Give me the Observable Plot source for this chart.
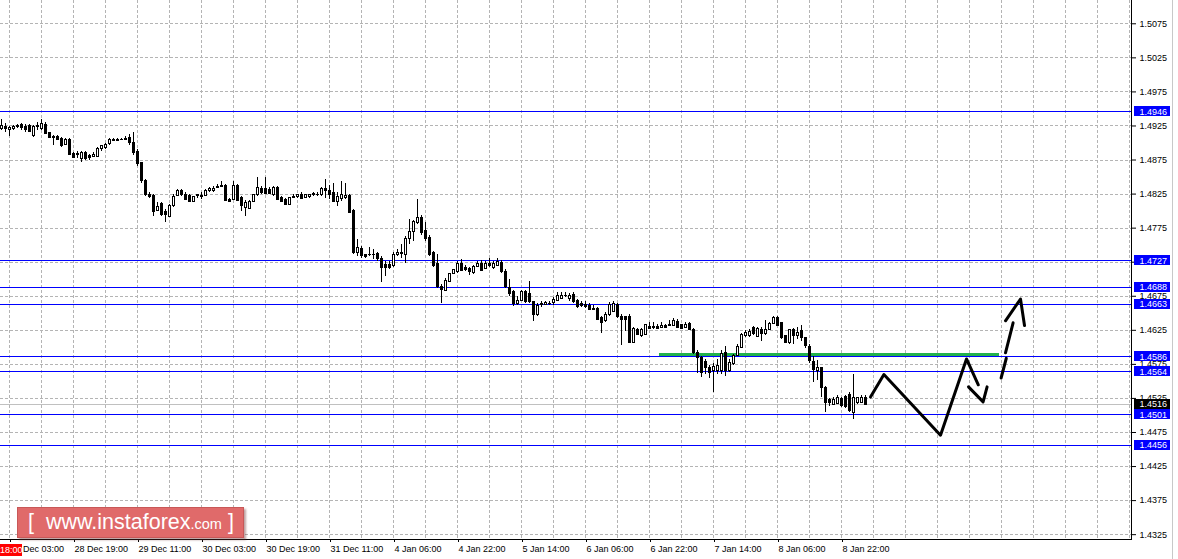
<!DOCTYPE html>
<html><head><meta charset="utf-8">
<script src="https://cdn.jsdelivr.net/npm/d3@7"></script>
<script src="https://cdn.jsdelivr.net/npm/@observablehq/plot@0.6"></script>
<style>
html,body{margin:0;padding:0;background:#fff;}
#wrap{position:relative;width:1178px;height:559px;overflow:hidden;font-family:"Liberation Sans",Arial,sans-serif;}
#wrap svg{position:absolute;left:0;top:0;}
.wm{position:absolute;left:17px;top:507px;width:225px;height:29px;background:#e06a6a;border:1px solid #c85858;box-shadow:2px 2px 2px rgba(110,50,50,0.45);color:#fff;}
.wm .t{position:absolute;left:10px;top:1px;font-size:21.5px;line-height:26px;white-space:nowrap;}
.wm .s{font-size:14.5px;}
.redlab{position:absolute;left:0;top:544px;width:22px;height:12px;background:#ff0000;color:#fff;font-size:9px;line-height:12px;text-align:center;}
.sidebar{position:absolute;left:1172px;top:0;width:1px;height:559px;background:#c8c8c8;}
</style></head><body><div id="wrap"></div>
<script>
// H1 candles, first bar index (0 = 28 Dec 03:00)
const firstBar = -2;
const open = [
1.4921,1.4924,1.4919,1.4921,1.4925,1.4927,1.4924,1.4925,1.4911,1.4923,
1.4921,1.4927,1.4915,1.4909,1.4909,1.4906,1.4897,1.4905,1.4884,1.4883,
1.4877,1.4886,1.4881,1.4880,1.4880,1.4891,1.4893,1.4899,1.4905,1.4905,
1.4904,1.4904,1.4907,1.4900,1.4887,1.4871,1.4844,1.4824,1.4822,1.4800,
1.4810,1.4799,1.4792,1.4807,1.4822,1.4830,1.4824,1.4822,1.4814,1.4822,
1.4822,1.4822,1.4829,1.4829,1.4836,1.4835,1.4837,1.4817,1.4817,1.4837,
1.4819,1.4805,1.4803,1.4813,1.4824,1.4833,1.4833,1.4831,1.4823,1.4834,
1.4819,1.4817,1.4809,1.4819,1.4820,1.4824,1.4819,1.4820,1.4824,1.4823,
1.4824,1.4833,1.4830,1.4826,1.4814,1.4818,1.4819,1.4822,1.4800,1.4739,
1.4745,1.4736,1.4735,1.4736,1.4737,1.4730,1.4721,1.4721,1.4720,1.4736,
1.4737,1.4736,1.4759,1.4770,1.4783,1.4790,1.4771,1.4761,1.4738,1.4722,
1.4689,1.4683,1.4696,1.4708,1.4710,1.4723,1.4717,1.4715,1.4709,1.4718,
1.4723,1.4715,1.4722,1.4717,1.4720,1.4724,1.4711,1.4687,1.4681,1.4664,
1.4668,1.4681,1.4679,1.4666,1.4647,1.4662,1.4662,1.4664,1.4665,1.4668,
1.4671,1.4676,1.4671,1.4677,1.4668,1.4663,1.4662,1.4660,1.4657,1.4656,
1.4643,1.4638,1.4648,1.4652,1.4662,1.4645,1.4645,1.4645,1.4607,1.4626,
1.4617,1.4618,1.4630,1.4629,1.4630,1.4629,1.4632,1.4631,1.4632,1.4637,
1.4633,1.4628,1.4634,1.4626,1.4592,1.4584,1.4579,1.4570,1.4566,1.4565,
1.4566,1.4591,1.4565,1.4576,1.4588,1.4599,1.4617,1.4616,1.4628,1.4615,
1.4625,1.4620,1.4625,1.4635,1.4643,1.4636,1.4616,1.4607,1.4625,1.4616,
1.4624,1.4613,1.4601,1.4579,1.4566,1.4569,1.4540,1.4523,1.4516,1.4517,
1.4524,1.4527,1.4530,1.4504,1.4518,1.4518,1.4526];
const high = [
1.4935,1.4928,1.4924,1.4925,1.4927,1.4928,1.4927,1.4927,1.4925,1.4930,
1.4934,1.4930,1.4916,1.4911,1.4911,1.4908,1.4906,1.4906,1.4886,1.4888,
1.4887,1.4887,1.4883,1.4886,1.4893,1.4897,1.4899,1.4906,1.4906,1.4906,
1.4906,1.4909,1.4912,1.4915,1.4890,1.4872,1.4846,1.4827,1.4824,1.4812,
1.4812,1.4802,1.4809,1.4825,1.4831,1.4831,1.4827,1.4824,1.4822,1.4825,
1.4827,1.4831,1.4834,1.4836,1.4839,1.4844,1.4839,1.4818,1.4844,1.4839,
1.4821,1.4815,1.4815,1.4825,1.4850,1.4836,1.4849,1.4834,1.4836,1.4836,
1.4821,1.4818,1.4820,1.4824,1.4825,1.4827,1.4824,1.4825,1.4828,1.4828,
1.4834,1.4846,1.4837,1.4840,1.4828,1.4843,1.4840,1.4824,1.4802,1.4759,
1.4748,1.4737,1.4746,1.4743,1.4739,1.4733,1.4726,1.4726,1.4739,1.4743,
1.4751,1.4762,1.4787,1.4786,1.4817,1.4793,1.4784,1.4764,1.4740,1.4736,
1.4692,1.4701,1.4709,1.4715,1.4726,1.4729,1.4720,1.4717,1.4720,1.4726,
1.4727,1.4726,1.4730,1.4726,1.4730,1.4727,1.4714,1.4699,1.4683,1.4674,
1.4684,1.4684,1.4696,1.4668,1.4664,1.4668,1.4667,1.4667,1.4673,1.4680,
1.4681,1.4681,1.4679,1.4681,1.4670,1.4667,1.4667,1.4664,1.4661,1.4658,
1.4646,1.4651,1.4666,1.4668,1.4665,1.4648,1.4646,1.4648,1.4629,1.4627,
1.4627,1.4634,1.4636,1.4636,1.4633,1.4636,1.4634,1.4639,1.4642,1.4641,
1.4634,1.4637,1.4637,1.4627,1.4595,1.4586,1.4582,1.4574,1.4577,1.4582,
1.4595,1.4601,1.4582,1.4589,1.4604,1.4621,1.4624,1.4626,1.4630,1.4629,
1.4629,1.4639,1.4637,1.4646,1.4645,1.4637,1.4618,1.4626,1.4627,1.4629,
1.4632,1.4615,1.4604,1.4586,1.4580,1.4571,1.4542,1.4525,1.4526,1.4530,
1.4527,1.4530,1.4533,1.4560,1.4527,1.4529,1.4530];
const low = [
1.4919,1.4916,1.4909,1.4919,1.4922,1.4919,1.4916,1.4915,1.4908,1.4919,
1.4919,1.4912,1.4906,1.4897,1.4903,1.4893,1.4896,1.4881,1.4877,1.4877,
1.4872,1.4875,1.4875,1.4878,1.4878,1.4888,1.4891,1.4897,1.4902,1.4902,
1.4903,1.4903,1.4897,1.4881,1.4866,1.4841,1.4821,1.4818,1.4792,1.4799,
1.4792,1.4784,1.4791,1.4806,1.4821,1.4821,1.4815,1.4812,1.4812,1.4818,
1.4817,1.4821,1.4828,1.4828,1.4833,1.4834,1.4814,1.4812,1.4815,1.4814,
1.4800,1.4792,1.4802,1.4812,1.4822,1.4824,1.4824,1.4824,1.4821,1.4815,
1.4812,1.4808,1.4808,1.4818,1.4819,1.4817,1.4818,1.4819,1.4822,1.4821,
1.4822,1.4819,1.4817,1.4812,1.4807,1.4814,1.4817,1.4796,1.4737,1.4734,
1.4731,1.4731,1.4733,1.4729,1.4726,1.4695,1.4704,1.4714,1.4717,1.4733,
1.4731,1.4723,1.4751,1.4755,1.4780,1.4764,1.4755,1.4734,1.4717,1.4687,
1.4664,1.4682,1.4695,1.4707,1.4709,1.4711,1.4711,1.4705,1.4707,1.4717,
1.4711,1.4714,1.4717,1.4715,1.4718,1.4709,1.4687,1.4674,1.4660,1.4662,
1.4667,1.4665,1.4665,1.4638,1.4645,1.4659,1.4661,1.4661,1.4662,1.4667,
1.4670,1.4673,1.4668,1.4665,1.4657,1.4658,1.4657,1.4654,1.4654,1.4639,
1.4620,1.4637,1.4646,1.4651,1.4643,1.4602,1.4623,1.4605,1.4605,1.4617,
1.4615,1.4617,1.4626,1.4626,1.4626,1.4627,1.4627,1.4630,1.4630,1.4627,
1.4626,1.4627,1.4624,1.4589,1.4562,1.4555,1.4560,1.4554,1.4533,1.4560,
1.4560,1.4557,1.4563,1.4574,1.4586,1.4598,1.4615,1.4614,1.4618,1.4614,
1.4608,1.4618,1.4624,1.4633,1.4630,1.4611,1.4605,1.4604,1.4604,1.4611,
1.4608,1.4599,1.4577,1.4549,1.4552,1.4526,1.4505,1.4513,1.4514,1.4516,
1.4511,1.4510,1.4505,1.4494,1.4516,1.4517,1.4516];
const close = [
1.4925,1.4921,1.4922,1.4924,1.4923,1.4922,1.4919,1.4916,1.4923,1.4925,
1.4928,1.4913,1.4908,1.4907,1.4905,1.4896,1.4905,1.4882,1.4878,1.4884,
1.4886,1.4877,1.4878,1.4883,1.4891,1.4896,1.4897,1.4905,1.4903,1.4903,
1.4905,1.4906,1.4900,1.4886,1.4869,1.4844,1.4823,1.4820,1.4799,1.4806,
1.4795,1.4794,1.4808,1.4821,1.4830,1.4823,1.4817,1.4814,1.4821,1.4823,
1.4821,1.4830,1.4833,1.4833,1.4834,1.4837,1.4815,1.4814,1.4837,1.4815,
1.4808,1.4812,1.4813,1.4824,1.4834,1.4826,1.4825,1.4825,1.4834,1.4817,
1.4814,1.4809,1.4819,1.4821,1.4823,1.4818,1.4823,1.4824,1.4825,1.4824,
1.4833,1.4829,1.4824,1.4814,1.4820,1.4823,1.4822,1.4797,1.4739,1.4746,
1.4734,1.4733,1.4736,1.4735,1.4729,1.4717,1.4717,1.4717,1.4736,1.4739,
1.4739,1.4759,1.4770,1.4784,1.4790,1.4768,1.4759,1.4736,1.4720,1.4688,
1.4684,1.4698,1.4708,1.4714,1.4723,1.4712,1.4714,1.4711,1.4718,1.4723,
1.4712,1.4722,1.4720,1.4722,1.4725,1.4711,1.4689,1.4678,1.4664,1.4668,
1.4681,1.4667,1.4667,1.4647,1.4661,1.4663,1.4665,1.4663,1.4670,1.4676,
1.4676,1.4675,1.4676,1.4667,1.4659,1.4660,1.4659,1.4655,1.4655,1.4640,
1.4636,1.4648,1.4662,1.4664,1.4645,1.4640,1.4640,1.4607,1.4627,1.4618,
1.4626,1.4633,1.4627,1.4630,1.4627,1.4632,1.4629,1.4633,1.4639,1.4628,
1.4627,1.4633,1.4626,1.4591,1.4584,1.4563,1.4569,1.4562,1.4571,1.4573,
1.4590,1.4565,1.4577,1.4588,1.4601,1.4618,1.4621,1.4623,1.4620,1.4627,
1.4620,1.4626,1.4635,1.4643,1.4632,1.4613,1.4606,1.4625,1.4617,1.4621,
1.4613,1.4602,1.4580,1.4567,1.4570,1.4540,1.4519,1.4519,1.4523,1.4525,
1.4514,1.4512,1.4506,1.4525,1.4525,1.4526,1.4516];

// time axis
const timeTickBars = [0,16,32,48,64,80,96,112,128,144,160,176,192,208];
const timeTickLabels = ["28 Dec 03:00","28 Dec 19:00","29 Dec 11:00","30 Dec 03:00","30 Dec 19:00",
  "31 Dec 11:00","4 Jan 06:00","4 Jan 22:00","5 Jan 14:00","6 Jan 06:00","6 Jan 22:00",
  "7 Jan 14:00","8 Jan 06:00","8 Jan 22:00"];
const gridBars = [0,8,16,24,32,40,48,56,64,72,80,88,96,104,112,120,128,136,144,152,160,168,176,184,
  192,200,208,216,224,232,240,248,256,264,272,280];

// price axis
const priceTicks = [1.4325,1.4375,1.4425,1.4475,1.4525,1.4575,1.4625,1.4675,1.4725,1.4775,
  1.4825,1.4875,1.4925,1.4975,1.5025,1.5075];
const levels = [1.4946,1.4727,1.4688,1.4663,1.4586,1.4564,1.4501,1.4456];
const currentPrice = 1.4516;

// drawn annotations (bar index, price)
const greenBars = [[162.5,205.1],[205.1,247.6]];
const greenPrices = [1.4589,1.4590];
const arrowSeg = ["a","a","a","a","a","b","b","b","c","c","d","d","e","e","e"];
const arrowBar = [215.25,218.6,232.75,239.25,242.2, 239.75,243.4,244.4, 247.9,249.2, 249.0,250.9, 249.0,252.75,253.75];
const arrowPrice = [1.4527,1.4560,1.4471,1.4583,1.4545, 1.4542,1.4520,1.4542, 1.4555,1.4584, 1.4592,1.4636, 1.4639,1.4671,1.4632];

const candles = open.map((o,k)=>({i:firstBar+k, open:o, high:high[k], low:low[k], close:close[k]}));
const green = greenBars.map((b,k)=>({from:b[0], to:b[1], price:greenPrices[k]}));
const arrow = arrowBar.map((b,k)=>({i:b, p:arrowPrice[k], seg:arrowSeg[k]}));
const labelOf = new Map(timeTickBars.map((b,k)=>[b,timeTickLabels[k]]));

const yBottom = 1.43179, yTop = 1.51092;
const boxHalf = 0.00075;
const boxX1 = 281.25, boxX2 = 290.25;
const crisp = {shapeRendering:"crispEdges"};

const chart = Plot.plot({
  width:1178, height:559,
  marginLeft:0, marginRight:47, marginTop:0, marginBottom:20,
  x:{domain:[-2.25,280.5]},
  y:{domain:[yBottom,yTop]},
  style:{fontFamily:'"Liberation Sans", Arial, sans-serif', fontSize:"9px", background:"#fff", color:"#000", overflow:"visible"},
  marks:[
    Plot.ruleY(priceTicks, {stroke:"#b4b4b4", strokeDasharray:"3,2", ...crisp}),
    Plot.ruleX(gridBars, {stroke:"#b4b4b4", strokeDasharray:"3,2", ...crisp}),
    Plot.ruleY([currentPrice], {stroke:"#c0c0c0", ...crisp}),
    Plot.ruleY(levels, {stroke:"#0000ff", ...crisp}),
    Plot.ruleY(green, {x1:"from", x2:"to", y:"price", stroke:"#22b14c", strokeWidth:3, ...crisp}),
    Plot.ruleX(candles, {x:"i", y1:"low", y2:"high", stroke:"#000", ...crisp}),
    Plot.rect(candles, {x1:d=>d.i-0.25, x2:d=>d.i+0.25, y1:"open", y2:"close",
      fill:d=>d.close>d.open?"#fff":"#000", stroke:"#000", ...crisp}),
    Plot.line(arrow, {x:"i", y:"p", z:"seg", stroke:"#000", strokeWidth:3, strokeLinecap:"round", strokeLinejoin:"round"}),
    Plot.frame({anchor:"right", stroke:"#000", ...crisp}),
    Plot.frame({anchor:"bottom", stroke:"#000", ...crisp}),
    Plot.axisY(priceTicks, {anchor:"right", tickSize:4, tickPadding:4, tickFormat:d=>d.toFixed(4), label:null, fontSize:9}),
    Plot.axisX(timeTickBars, {anchor:"bottom", tickSize:3, tickPadding:3, textAnchor:"start", dx:1,
      tickFormat:d=>labelOf.get(d), label:null, fontSize:9}),
    Plot.rect([currentPrice], {x1:()=>boxX1, x2:()=>boxX2, y1:d=>d-boxHalf, y2:d=>d+boxHalf, fill:"#000", ...crisp}),
    Plot.text([currentPrice], {y:d=>d, frameAnchor:"right", dx:8, textAnchor:"start", text:d=>d.toFixed(4), fill:"#fff"}),
    Plot.rect(levels, {x1:()=>boxX1, x2:()=>boxX2, y1:d=>d-boxHalf, y2:d=>d+boxHalf, fill:"#0000ff", ...crisp}),
    Plot.text(levels, {y:d=>d, frameAnchor:"right", dx:8, textAnchor:"start", text:d=>d.toFixed(4), fill:"#fff"})
  ]
});

const wrap = document.getElementById("wrap");
wrap.appendChild(chart);
wrap.insertAdjacentHTML("beforeend",
  '<div class="wm"><div class="t">[&nbsp; www.instaforex<span class="s">.com</span> ]</div></div>' +
  '<div class="redlab">18:00</div><div class="sidebar"></div>');
</script>
</body></html>
